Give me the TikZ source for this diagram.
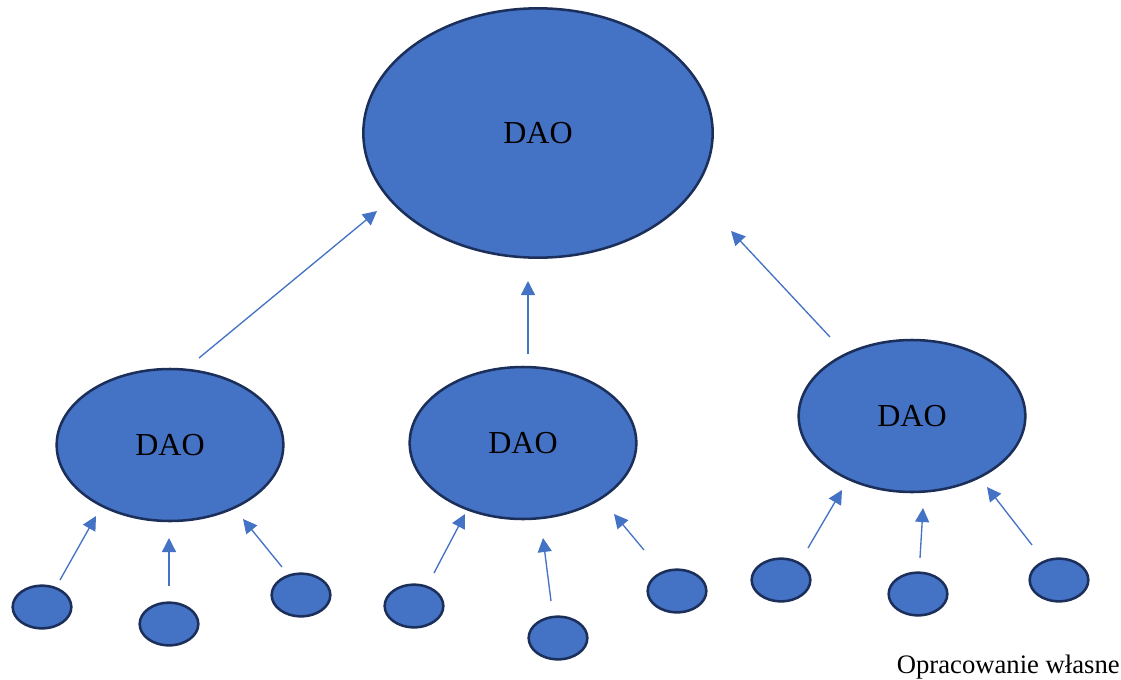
\documentclass[tikz,border=0pt]{standalone}
\usepackage{fontspec}
\setmainfont{Liberation Serif}
\usetikzlibrary{arrows.meta,shapes.geometric}
\definecolor{daofill}{HTML}{4472C4}
\definecolor{daoedge}{HTML}{1B2F5A}
\begin{document}
\begin{tikzpicture}[x=0.75pt,y=-0.75pt,
  unit/.style={ellipse, draw=daoedge, fill=daofill, line width=1.9pt, inner sep=0pt},
  big/.style={unit, minimum width=262pt, minimum height=187pt, font=\fontsize{24}{28}\selectfont},
  mid/.style={unit, minimum width=170pt, minimum height=114pt, font=\fontsize{24}{28}\selectfont},
  leaf/.style={unit, minimum width=44pt, minimum height=32pt},
  link/.style={draw=daofill, line width=1pt, -{Triangle[length=10.5pt,width=10.5pt]}}]
\useasboundingbox (0,0) rectangle (1121,679);

% top level
\node[big] (top) at (538,133) {DAO};

% second level
\node[mid] (m1) at (170,445) {DAO};
\node[mid] (m2) at (523,443) {DAO};
\node[mid] (m3) at (912,416) {DAO};

% leaves
\node[leaf] (l1) at (42,607) {};
\node[leaf] (l2) at (169,624) {};
\node[leaf] (l3) at (301,595) {};
\node[leaf] (l4) at (414,606) {};
\node[leaf] (l5) at (558,638) {};
\node[leaf] (l6) at (677,591) {};
\node[leaf] (l7) at (781,580) {};
\node[leaf] (l8) at (918,594) {};
\node[leaf] (l9) at (1059,580) {};

% arrow end points (the arrows float between the shapes)
\coordinate (a1s) at (199,358); \coordinate (a1e) at (377,211);
\coordinate (a2s) at (528,354); \coordinate (a2e) at (528,281);
\coordinate (a3s) at (830,337); \coordinate (a3e) at (731,231);

\coordinate (b1s) at (60,580);   \coordinate (b1e) at (96,516);
\coordinate (b2s) at (169,586);  \coordinate (b2e) at (169,538);
\coordinate (b3s) at (282,567);  \coordinate (b3e) at (243,519);
\coordinate (b4s) at (434,573);  \coordinate (b4e) at (465,514);
\coordinate (b5s) at (551,601);  \coordinate (b5e) at (543,538);
\coordinate (b6s) at (644,550);  \coordinate (b6e) at (614,514);
\coordinate (b7s) at (808,548);  \coordinate (b7e) at (842,490);
\coordinate (b8s) at (920,558);  \coordinate (b8e) at (923,508);
\coordinate (b9s) at (1032,545); \coordinate (b9e) at (987,487);

\foreach \n in {a1,a2,a3,b1,b2,b3,b4,b5,b6,b7,b8,b9}
  \draw[link] (\n s) -- (\n e);

\node[anchor=east, font=\fontsize{20}{24}\selectfont, inner sep=0pt] (src) at (1120,667) {Opracowanie własne};
\end{tikzpicture}
\end{document}
